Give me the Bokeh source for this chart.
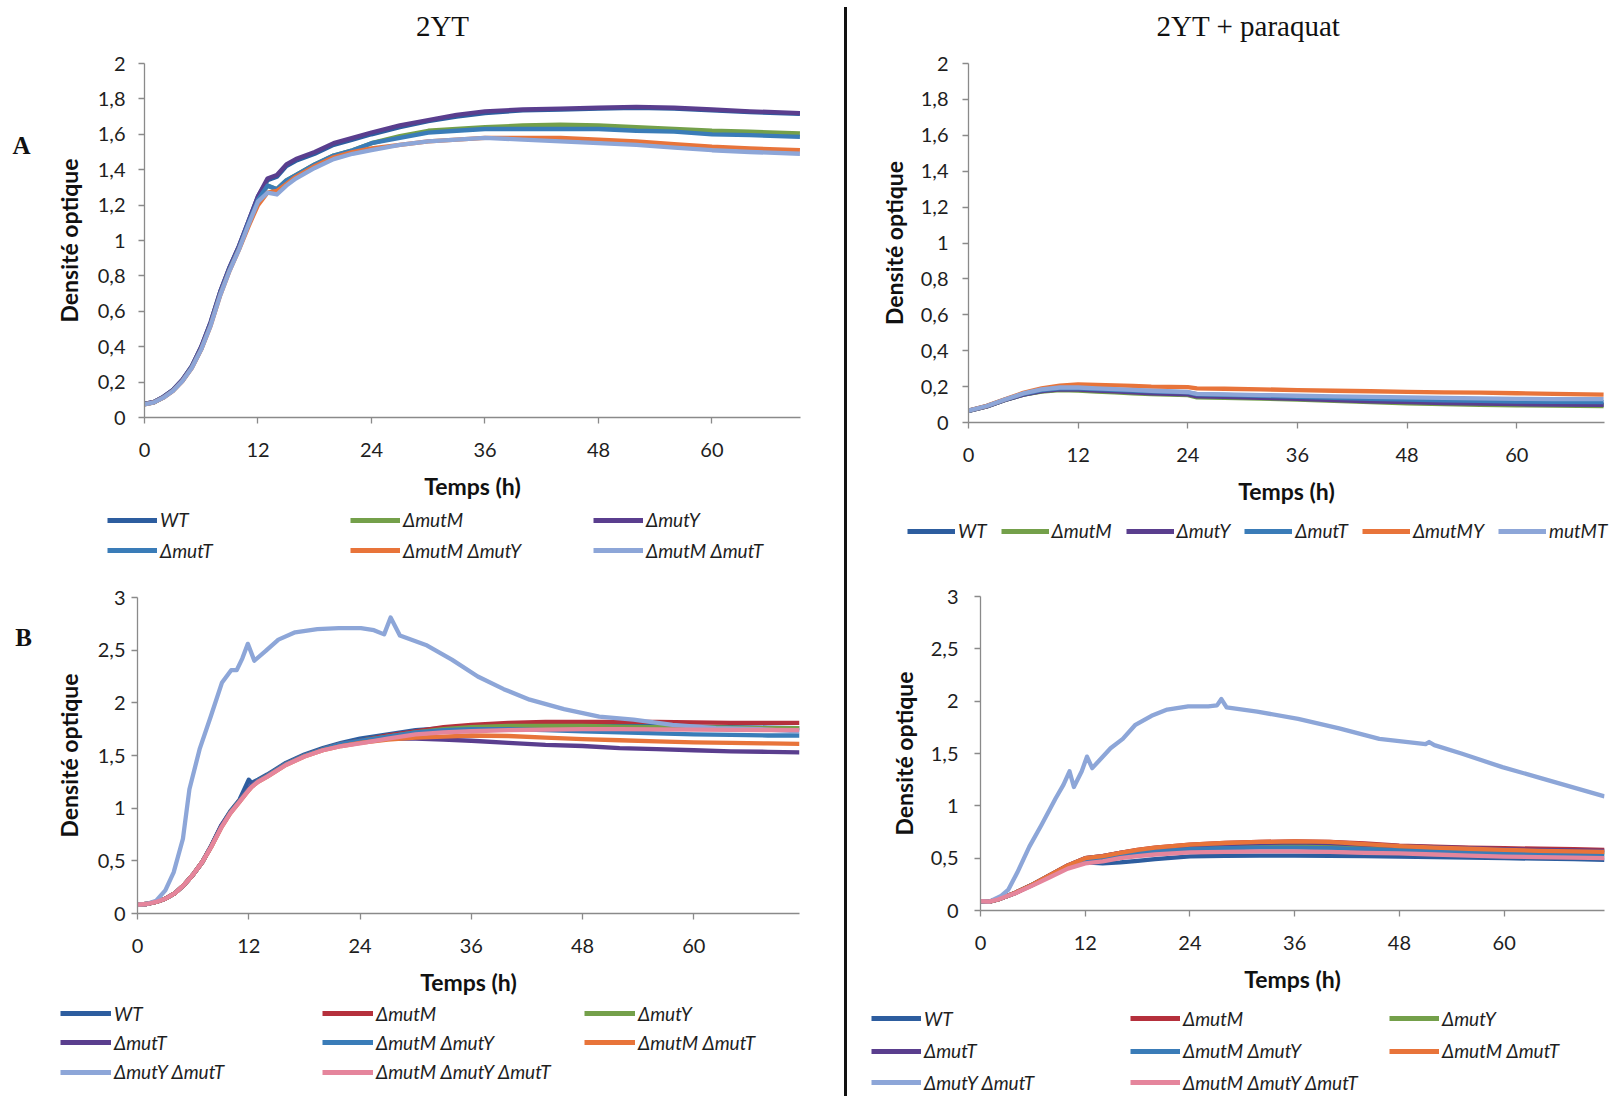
from bokeh.plotting import figure
from bokeh.models import Range1d, FixedTicker, Legend, LegendItem, Label, Div
from bokeh.layouts import row, column
from bokeh.embed import file_html
from bokeh.resources import INLINE

# ---------------- data ----------------
x_ticks = [0, 12, 24, 36, 48, 60]
y_ticks_A = [0, 0.2, 0.4, 0.6, 0.8, 1, 1.2, 1.4, 1.6, 1.8, 2]
y_labels_A = ["0", "0,2", "0,4", "0,6", "0,8", "1", "1,2", "1,4", "1,6", "1,8", "2"]
y_ticks_B = [0, 0.5, 1, 1.5, 2, 2.5, 3]
y_labels_B = ["0", "0,5", "1", "1,5", "2", "2,5", "3"]

# Panel A, 2YT
t_A = [0, 1, 2, 3, 4, 5, 6, 7, 8, 9, 10, 11, 12, 13, 14, 15, 16, 18, 20, 22, 24, 27, 30, 33, 36, 40, 44, 48, 52, 56, 60, 64, 69.3]
A_WT = [0.077, 0.088, 0.117, 0.156, 0.212, 0.29, 0.40, 0.54, 0.71, 0.85, 0.97, 1.11, 1.25, 1.34, 1.36, 1.42, 1.45, 1.49, 1.54, 1.57, 1.60, 1.64, 1.675, 1.70, 1.72, 1.735, 1.74, 1.745, 1.75, 1.745, 1.735, 1.725, 1.715]
A_mutM = [0.075, 0.086, 0.114, 0.152, 0.208, 0.285, 0.39, 0.53, 0.70, 0.84, 0.96, 1.10, 1.23, 1.31, 1.29, 1.34, 1.37, 1.43, 1.48, 1.51, 1.55, 1.59, 1.62, 1.63, 1.64, 1.65, 1.655, 1.65, 1.64, 1.63, 1.62, 1.615, 1.605]
A_mutY = [0.077, 0.088, 0.117, 0.156, 0.213, 0.29, 0.40, 0.54, 0.71, 0.85, 0.97, 1.11, 1.25, 1.35, 1.37, 1.43, 1.46, 1.50, 1.55, 1.58, 1.61, 1.65, 1.68, 1.71, 1.73, 1.74, 1.745, 1.75, 1.755, 1.75, 1.74, 1.73, 1.72]
A_mutT = [0.075, 0.086, 0.114, 0.152, 0.208, 0.285, 0.39, 0.53, 0.70, 0.84, 0.96, 1.10, 1.23, 1.31, 1.29, 1.34, 1.37, 1.43, 1.48, 1.51, 1.55, 1.58, 1.61, 1.62, 1.63, 1.63, 1.63, 1.63, 1.62, 1.615, 1.60, 1.595, 1.585]
A_mutMY = [0.074, 0.085, 0.112, 0.15, 0.205, 0.28, 0.385, 0.52, 0.69, 0.83, 0.95, 1.08, 1.20, 1.27, 1.28, 1.32, 1.36, 1.42, 1.47, 1.50, 1.52, 1.54, 1.56, 1.57, 1.58, 1.58, 1.58, 1.57, 1.56, 1.545, 1.53, 1.52, 1.51]
A_mutMT = [0.074, 0.085, 0.112, 0.15, 0.205, 0.28, 0.385, 0.52, 0.69, 0.83, 0.95, 1.09, 1.22, 1.27, 1.26, 1.31, 1.35, 1.41, 1.46, 1.49, 1.51, 1.54, 1.56, 1.57, 1.58, 1.57, 1.56, 1.55, 1.54, 1.525, 1.51, 1.50, 1.49]

# Panel A, 2YT + paraquat
t_Ap = [0, 2, 4, 6, 8, 10, 12, 14, 16, 18, 20, 24, 25, 28, 32, 36, 40, 44, 48, 52, 56, 60, 64, 69.5]
Ap_WT = [0.065, 0.09, 0.125, 0.155, 0.175, 0.185, 0.185, 0.18, 0.175, 0.17, 0.165, 0.16, 0.148, 0.145, 0.14, 0.135, 0.128, 0.12, 0.115, 0.112, 0.108, 0.105, 0.103, 0.10]
Ap_mutM = [0.065, 0.09, 0.125, 0.155, 0.172, 0.18, 0.178, 0.172, 0.168, 0.163, 0.158, 0.152, 0.14, 0.138, 0.133, 0.127, 0.12, 0.113, 0.107, 0.103, 0.099, 0.096, 0.094, 0.092]
Ap_mutY = [0.065, 0.09, 0.125, 0.155, 0.175, 0.185, 0.183, 0.178, 0.173, 0.168, 0.163, 0.157, 0.146, 0.143, 0.137, 0.132, 0.125, 0.118, 0.113, 0.108, 0.105, 0.102, 0.10, 0.098]
Ap_mutT = [0.066, 0.092, 0.128, 0.16, 0.18, 0.19, 0.19, 0.186, 0.182, 0.178, 0.174, 0.168, 0.157, 0.154, 0.148, 0.143, 0.137, 0.132, 0.128, 0.124, 0.12, 0.117, 0.115, 0.113]
Ap_mutMY = [0.067, 0.093, 0.13, 0.165, 0.19, 0.205, 0.212, 0.21, 0.207, 0.204, 0.2, 0.197, 0.19, 0.188, 0.185, 0.18, 0.177, 0.174, 0.171, 0.168, 0.166, 0.163, 0.16, 0.155]
Ap_mutMT = [0.066, 0.092, 0.128, 0.162, 0.185, 0.195, 0.195, 0.19, 0.186, 0.182, 0.177, 0.17, 0.16, 0.157, 0.153, 0.149, 0.146, 0.143, 0.14, 0.137, 0.134, 0.132, 0.13, 0.13]

# Panel B, 2YT
t_B = [0, 1, 2, 3, 4, 5, 6, 7, 8, 9, 10, 11, 12, 12.3, 13, 14, 16, 18, 20, 22, 24, 27, 30, 33, 36, 40, 44, 48, 52, 56, 60, 64, 68, 71.4]
B_WT = [0.085, 0.09, 0.11, 0.14, 0.19, 0.27, 0.37, 0.49, 0.65, 0.83, 0.97, 1.08, 1.27, 1.24, 1.27, 1.32, 1.43, 1.51, 1.57, 1.62, 1.66, 1.70, 1.74, 1.76, 1.78, 1.79, 1.79, 1.79, 1.785, 1.78, 1.775, 1.77, 1.765, 1.76]
B_mutM = [0.085, 0.09, 0.11, 0.14, 0.19, 0.27, 0.37, 0.49, 0.645, 0.82, 0.96, 1.07, 1.18, 1.21, 1.26, 1.31, 1.42, 1.50, 1.56, 1.61, 1.64, 1.69, 1.73, 1.77, 1.79, 1.81, 1.82, 1.82, 1.82, 1.82, 1.815, 1.81, 1.81, 1.81]
B_mutY = [0.085, 0.09, 0.11, 0.14, 0.19, 0.27, 0.37, 0.49, 0.645, 0.82, 0.96, 1.07, 1.18, 1.21, 1.26, 1.31, 1.42, 1.50, 1.56, 1.61, 1.64, 1.68, 1.72, 1.75, 1.77, 1.78, 1.78, 1.78, 1.775, 1.77, 1.77, 1.765, 1.76, 1.76]
B_mutT = [0.085, 0.09, 0.11, 0.14, 0.19, 0.27, 0.37, 0.49, 0.65, 0.83, 0.96, 1.07, 1.19, 1.22, 1.26, 1.31, 1.42, 1.50, 1.56, 1.61, 1.64, 1.66, 1.66, 1.65, 1.64, 1.62, 1.60, 1.59, 1.57, 1.56, 1.55, 1.54, 1.535, 1.53]
B_mutMY = [0.085, 0.09, 0.11, 0.14, 0.19, 0.27, 0.37, 0.49, 0.645, 0.82, 0.96, 1.07, 1.18, 1.21, 1.26, 1.31, 1.42, 1.50, 1.56, 1.61, 1.64, 1.68, 1.72, 1.74, 1.75, 1.75, 1.74, 1.73, 1.72, 1.71, 1.70, 1.695, 1.69, 1.69]
B_mutMT = [0.085, 0.09, 0.11, 0.14, 0.19, 0.27, 0.37, 0.49, 0.64, 0.81, 0.95, 1.06, 1.17, 1.20, 1.25, 1.30, 1.41, 1.49, 1.55, 1.59, 1.62, 1.65, 1.67, 1.68, 1.69, 1.685, 1.67, 1.655, 1.645, 1.635, 1.625, 1.62, 1.615, 1.61]
B_mutMYT = [0.085, 0.09, 0.11, 0.14, 0.19, 0.27, 0.37, 0.49, 0.64, 0.81, 0.95, 1.06, 1.17, 1.20, 1.25, 1.30, 1.41, 1.49, 1.55, 1.59, 1.615, 1.66, 1.70, 1.72, 1.73, 1.74, 1.745, 1.75, 1.75, 1.748, 1.745, 1.743, 1.742, 1.74]
t_B_YT = [0, 1, 2, 3.0, 3.9, 4.9, 5.6, 6.7, 7.9, 9.1, 10.1, 10.7, 11.3, 11.9, 12.6, 13.8, 15.2, 17.0, 19.4, 21.7, 24.1, 25.5, 26.6, 27.3, 28.3, 31.1, 33.9, 36.7, 39.5, 42.3, 46.0, 49.8, 53.5, 57.7, 62.4, 67.1, 71.4]
B_mutYT = [0.085, 0.09, 0.12, 0.22, 0.39, 0.71, 1.18, 1.56, 1.87, 2.19, 2.31, 2.31, 2.42, 2.56, 2.40, 2.49, 2.60, 2.67, 2.70, 2.71, 2.71, 2.69, 2.65, 2.81, 2.64, 2.55, 2.41, 2.25, 2.13, 2.03, 1.94, 1.87, 1.84, 1.79, 1.76, 1.75, 1.73]

# Panel B, 2YT + paraquat
t_Bp = [0, 1, 2, 3, 4, 6, 8, 10, 12, 14, 16, 18, 20, 24, 28, 32, 36, 40, 44, 48, 52, 56, 60, 64, 68, 71.5]
Bp_WT = [0.089, 0.085, 0.105, 0.136, 0.168, 0.245, 0.33, 0.41, 0.46, 0.45, 0.46, 0.475, 0.49, 0.517, 0.523, 0.525, 0.525, 0.523, 0.52, 0.515, 0.51, 0.505, 0.50, 0.495, 0.49, 0.485]
Bp_mutM = [0.089, 0.085, 0.105, 0.136, 0.17, 0.25, 0.34, 0.43, 0.50, 0.52, 0.55, 0.58, 0.60, 0.63, 0.645, 0.655, 0.66, 0.655, 0.64, 0.62, 0.61, 0.60, 0.595, 0.59, 0.585, 0.58]
Bp_mutY = [0.089, 0.085, 0.105, 0.136, 0.168, 0.248, 0.338, 0.425, 0.49, 0.51, 0.54, 0.565, 0.58, 0.60, 0.61, 0.615, 0.62, 0.615, 0.605, 0.595, 0.585, 0.575, 0.565, 0.56, 0.55, 0.545]
Bp_mutT = [0.089, 0.085, 0.105, 0.136, 0.17, 0.25, 0.34, 0.43, 0.50, 0.52, 0.55, 0.575, 0.595, 0.62, 0.635, 0.645, 0.65, 0.645, 0.63, 0.615, 0.605, 0.595, 0.585, 0.58, 0.575, 0.57]
Bp_mutMY = [0.089, 0.085, 0.105, 0.136, 0.168, 0.248, 0.335, 0.42, 0.48, 0.50, 0.53, 0.55, 0.565, 0.585, 0.595, 0.60, 0.60, 0.595, 0.585, 0.575, 0.565, 0.555, 0.545, 0.54, 0.535, 0.53]
Bp_mutMT = [0.089, 0.085, 0.105, 0.136, 0.17, 0.25, 0.34, 0.43, 0.50, 0.52, 0.55, 0.58, 0.60, 0.63, 0.645, 0.655, 0.66, 0.655, 0.635, 0.615, 0.60, 0.59, 0.58, 0.57, 0.565, 0.56]
Bp_mutMYT = [0.089, 0.085, 0.105, 0.136, 0.165, 0.24, 0.32, 0.40, 0.45, 0.47, 0.50, 0.52, 0.535, 0.555, 0.56, 0.565, 0.565, 0.56, 0.55, 0.545, 0.535, 0.525, 0.515, 0.51, 0.505, 0.50]
t_Bp_YT = [0, 1, 2.3, 3.2, 4.2, 5.6, 7.0, 8.6, 9.5, 10.2, 10.7, 11.6, 12.2, 12.8, 14.9, 16.3, 17.7, 19.6, 21.4, 23.8, 26.1, 27.1, 27.6, 28.2, 31.7, 36.4, 41.1, 45.7, 51.0, 51.4, 52.0, 55.1, 59.8, 64.4, 71.5]
Bp_mutYT = [0.089, 0.085, 0.136, 0.20, 0.36, 0.61, 0.82, 1.07, 1.20, 1.33, 1.18, 1.33, 1.47, 1.36, 1.55, 1.64, 1.77, 1.86, 1.92, 1.95, 1.95, 1.96, 2.02, 1.94, 1.90, 1.83, 1.74, 1.64, 1.59, 1.61, 1.58, 1.50, 1.37, 1.26, 1.09]

# colours
C_WT = "#2D5D9F"
C_GREEN = "#74A04A"
C_PURPLE = "#5A3E8E"
C_BLUE = "#3A7CB8"
C_ORANGE = "#E8743A"
C_LBLUE = "#8DA6D8"
C_RED = "#B5303C"
C_PINK = "#E5859C"

FONT = "Lato"
SERIF = "Liberation Serif"
LW = 4.3


def no_align(p):
    try:
        p.frame_align = False
    except Exception:
        pass


def drop_title(p):
    try:
        p.title = None
    except Exception:
        p.title.text = ""


def make_fig(w, h, fl, fr, ft, fb, xmax, ymax, yticks, ylabels, ystand, ylab_stand):
    p = figure(width=w, height=h, output_backend="svg", toolbar_location=None,
               x_range=Range1d(0, xmax), y_range=Range1d(0, ymax),
               min_border_left=fl, min_border_right=fr,
               min_border_top=ft, min_border_bottom=fb)
    no_align(p)
    drop_title(p)
    p.outline_line_color = None
    p.grid.visible = False
    p.background_fill_color = "white"
    p.border_fill_color = "white"
    for ax in (p.xaxis[0], p.yaxis[0]):
        ax.axis_line_color = "#8a8a8a"
        ax.axis_line_width = 1.3
        ax.major_tick_line_color = "#8a8a8a"
        ax.major_tick_line_width = 1.3
        ax.major_tick_out = 6
        ax.major_tick_in = 0
        ax.minor_tick_line_color = None
        ax.major_label_text_font = FONT
        ax.major_label_text_font_size = "20px"
        ax.major_label_text_color = "#1e1e1e"
        ax.axis_label_text_font = FONT
        ax.axis_label_text_font_style = "bold"
        ax.axis_label_text_font_size = "23px"
        ax.axis_label_text_color = "#111111"
    p.xaxis.ticker = FixedTicker(ticks=x_ticks)
    p.xaxis.major_label_standoff = 19
    p.xaxis.axis_label = "Temps (h)"
    p.xaxis.axis_label_standoff = 12
    p.yaxis.ticker = FixedTicker(ticks=yticks)
    p.yaxis.major_label_overrides = {t: s for t, s in zip(yticks, ylabels)}
    p.yaxis.major_label_standoff = ystand
    p.yaxis.axis_label = "Densité optique"
    p.yaxis.axis_label_standoff = ylab_stand
    return p


def blank_fig(w, h):
    p = figure(width=w, height=h, output_backend="svg", toolbar_location=None,
               x_range=Range1d(0, w), y_range=Range1d(0, h),
               x_axis_location=None, y_axis_location=None,
               min_border_left=0, min_border_right=0, min_border_top=0, min_border_bottom=0)
    no_align(p)
    drop_title(p)
    p.outline_line_color = None
    p.grid.visible = False
    p.background_fill_color = "white"
    p.border_fill_color = "white"
    return p


def title_fig(w, h, x, y, text):
    p = blank_fig(w, h)
    p.add_layout(Label(x=x, y=y, text=text, text_font=SERIF, text_font_size="29px",
                       text_align="center", text_baseline="middle", text_color="#111111"))
    return p


def legend_fig(w, h, rows, labels, series, colors, vx, vys, gw, lw, spacing):
    # legend proxies: the same series, hidden, so that Legend can draw their line samples
    p = blank_fig(w, h)
    rs = [p.line(ts, ys, line_color=c, line_width=5, visible=False) for (ts, ys), c in zip(series, colors)]
    start = 0
    for n, vy in zip(rows, vys):
        items = [LegendItem(label=labels[i], renderers=[rs[i]]) for i in range(start, start + n)]
        start += n
        leg = Legend(items=items, location=(vx, vy), orientation="horizontal",
                     padding=0, margin=0, spacing=spacing, glyph_width=gw,
                     glyph_height=24, label_height=24, label_width=lw, label_standoff=3,
                     border_line_color=None, background_fill_alpha=0,
                     label_text_font=FONT, label_text_font_style="italic",
                     label_text_font_size="19px", label_text_color="#1e1e1e")
        p.add_layout(leg)
    return p


# ---------- A left ----------
labels_AL = ["WT", "ΔmutM", "ΔmutY", "ΔmutT", "ΔmutM ΔmutY", "ΔmutM ΔmutT"]
colors_AL = [C_WT, C_GREEN, C_PURPLE, C_BLUE, C_ORANGE, C_LBLUE]
series_AL = [(t_A, A_WT), (t_A, A_mutM), (t_A, A_mutY), (t_A, A_mutT), (t_A, A_mutMY), (t_A, A_mutMT)]
ttlAL = title_fig(804, 44, 402, 19, "2YT")
pAL = make_fig(804, 461, 104, 44, 19, 88, 69.36, 2, y_ticks_A, y_labels_A, 13, 12)
for (ts, ys), col in zip(series_AL, colors_AL):
    pAL.line(ts, ys, line_color=col, line_width=LW, line_join="round")
legAL = legend_fig(804, 61, [3, 3], labels_AL, series_AL, colors_AL, 67, [34.5, 4], 50, 190, 0)

# ---------- A right ----------
labels_AR = ["WT", "ΔmutM", "ΔmutY", "ΔmutT", "ΔmutMY", "mutMT"]
colors_AR = [C_WT, C_GREEN, C_PURPLE, C_BLUE, C_ORANGE, C_LBLUE]
series_AR = [(t_Ap, Ap_WT), (t_Ap, Ap_mutM), (t_Ap, Ap_mutY), (t_Ap, Ap_mutT), (t_Ap, Ap_mutMY), (t_Ap, Ap_mutMT)]
ttlAR = title_fig(774, 44, 401, 19, "2YT + paraquat")
pAR = make_fig(774, 464, 121, 17, 19, 86, 69.6, 2, y_ticks_A, y_labels_A, 14, 10)
for (ts, ys), col in zip(series_AR, colors_AR):
    pAR.line(ts, ys, line_color=col, line_width=LW, line_join="round")
legAR = legend_fig(774, 58, [6], labels_AR, series_AR, colors_AR, 60, [23.5], 48, 10, 14)

# ---------- B left ----------
labels_B = ["WT", "ΔmutM", "ΔmutY", "ΔmutT", "ΔmutM ΔmutY", "ΔmutM ΔmutT", "ΔmutY ΔmutT", "ΔmutM ΔmutY ΔmutT"]
colors_B = [C_WT, C_RED, C_GREEN, C_PURPLE, C_BLUE, C_ORANGE, C_LBLUE, C_PINK]
series_BL = [(t_B, B_WT), (t_B, B_mutM), (t_B, B_mutY), (t_B, B_mutT), (t_B, B_mutMY),
             (t_B, B_mutMT), (t_B_YT, B_mutYT), (t_B, B_mutMYT)]
pBL = make_fig(804, 434, 97, 45, 31, 87, 71.4, 3, y_ticks_B, y_labels_B, 6, 12)
for (ts, ys), col in zip(series_BL, colors_B):
    pBL.line(ts, ys, line_color=col, line_width=LW, line_join="round")
legBL = legend_fig(804, 96, [3, 3, 2], labels_B, series_BL, colors_B, 20, [71, 41.7, 12.5], 51, 208, 0)

# ---------- B right ----------
series_BR = [(t_Bp, Bp_WT), (t_Bp, Bp_mutM), (t_Bp, Bp_mutY), (t_Bp, Bp_mutT), (t_Bp, Bp_mutMY),
             (t_Bp, Bp_mutMT), (t_Bp_YT, Bp_mutYT), (t_Bp, Bp_mutMYT)]
pBR = make_fig(774, 434, 133, 17, 30, 90, 71.5, 3, y_ticks_B, y_labels_B, 16, 10)
for (ts, ys), col in zip(series_BR, colors_B):
    pBR.line(ts, ys, line_color=col, line_width=LW, line_join="round")
legBR = legend_fig(774, 96, [3, 3, 2], labels_B, series_BR, colors_B, 24, [65.7, 33.3, 1.7], 50, 206, 0)

# ---------- panel letters ----------
strip = blank_fig(40, 1096)
strip.add_layout(Label(x=21, y=1096 - 145, text="A", text_font=SERIF, text_font_size="25px",
                       text_font_style="bold", text_align="center", text_baseline="middle",
                       text_color="#111111"))
strip.add_layout(Label(x=23, y=1096 - 637, text="B", text_font=SERIF, text_font_size="25px",
                       text_font_style="bold", text_align="center", text_baseline="middle",
                       text_color="#111111"))

divider = Div(text='<div style="width:3px;height:1089px;margin-top:7px;background:#111111"></div>',
              width=3, height=1096, margin=0)

left = column(ttlAL, pAL, legAL, pBL, legBL, spacing=0)
right = column(ttlAR, pAR, legAR, pBR, legBR, spacing=0)
layout = row(strip, left, divider, right, spacing=0)

open("out.html", "w").write(file_html(layout, INLINE, title="Croissance"))
